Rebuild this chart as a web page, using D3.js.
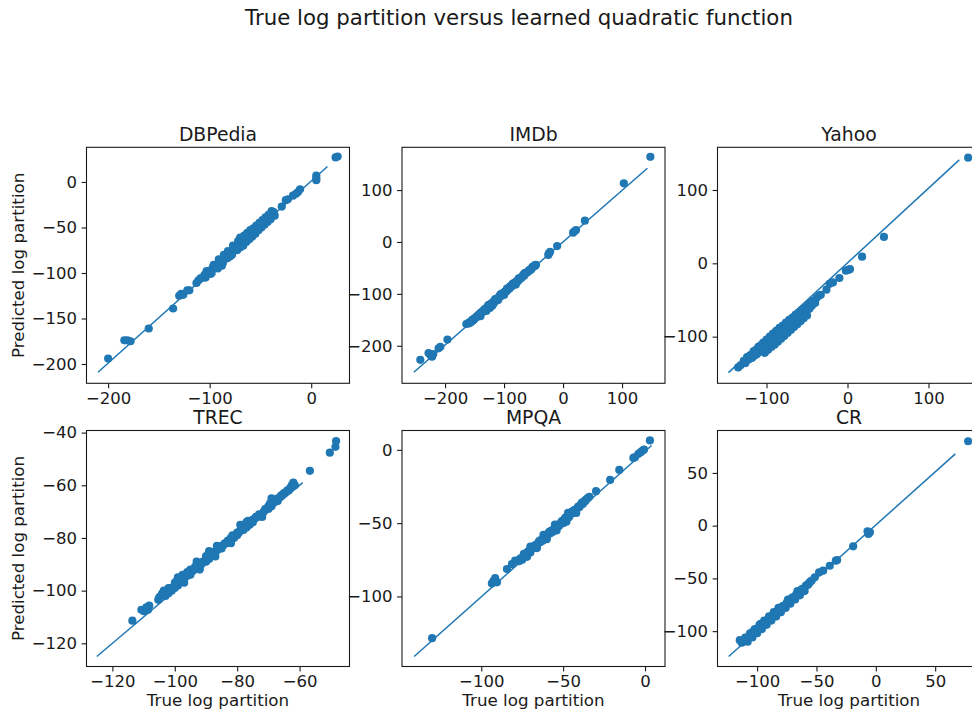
<!DOCTYPE html>
<html>
<head>
<meta charset="utf-8">
<style>
  body { margin: 0; background: #ffffff; }
  svg { font-family: "DejaVu Sans", sans-serif; }
</style>
</head>
<body>
<svg width="972" height="712"></svg>
<script src="https://d3js.org/d3.v7.min.js"></script>
<script>
// panel names, in reading order
const titles = ["DBPedia", "IMDb", "Yahoo", "TREC", "MPQA", "CR"];

// [true log partition, predicted log partition]
const dbpedia = [[-200,-194],[-184,-174],[-181,-174],[-178,-175],[-160,-161],[-136,-139],[-130,-125],[-128,-123],
  [-126,-124],[-122,-119],[-120,-119],[-113,-111],[-111,-108],[-109,-106],[-107,-105],[-105,-102],[-104,-105],
  [-102,-99],[-100,-98],[-99,-101],[-97,-94],[-95,-93],[-93,-91],[-92,-95],[-90,-87],[-88,-86],[-88,-92],[-86,-84],
  [-84,-81],[-83,-84],[-81,-78],[-79,-77],[-78,-80],[-76,-73],[-74,-72],[-73,-75],[-71,-68],[-69,-67],[-68,-64],
  [-67,-70],[-65,-62],[-64,-66],[-62,-59],[-61,-63],[-59,-56],[-58,-60],[-56,-53],[-55,-57],[-53,-50],[-52,-53],
  [-50,-47],[-49,-50],[-47,-44],[-46,-47],[-44,-41],[-43,-44],[-41,-38],[-40,-41],[-38,-35],[-37,-33],[-36,-37],
  [-103,-98],[-96,-91],[-91,-85],[-86,-80],[-82,-76],[-77,-70],[-72,-65],[-70,-61],[-66,-59],[-63,-56],[-60,-53],
  [-57,-51],[-54,-48],[-51,-45],[-48,-42],[-45,-39],[-42,-36],[-39,-32],[-98,-100],[-87,-89],[-80,-82],[-70,-72],
  [-29,-27],[-25,-20],[-23,-19],[-18,-15],[-15,-13],[-13,-11],[-11,-8],[5,7],[5,4],[5,2],[24,27],[26,28]];

const imdb = [[-242,-227],[-228,-214],[-225,-218],[-222,-221],[-220,-216],[-211,-205],[-208,-202],[-196,-188],
  [-164,-158],[-160,-157],[-157,-155],[-154,-150],[-152,-151],[-150,-147],[-148,-146],[-146,-143],[-144,-143],
  [-142,-139],[-140,-138],[-138,-135],[-136,-135],[-134,-131],[-132,-129],[-130,-128],[-128,-125],[-126,-125],
  [-126,-121],[-124,-127],[-124,-121],[-122,-119],[-120,-118],[-118,-115],[-118,-119],[-116,-115],[-114,-111],
  [-112,-109],[-110,-108],[-110,-112],[-108,-105],[-106,-105],[-104,-101],[-102,-99],[-100,-98],[-100,-102],
  [-98,-95],[-96,-95],[-94,-91],[-92,-89],[-90,-88],[-90,-86],[-88,-85],[-86,-85],[-84,-81],[-82,-79],[-80,-78],
  [-80,-82],[-78,-75],[-76,-75],[-74,-71],[-72,-69],[-70,-68],[-68,-65],[-66,-65],[-64,-61],[-62,-59],[-60,-58],
  [-58,-55],[-56,-53],[-54,-52],[-52,-49],[-50,-47],[-48,-45],[-46,-44],[-140,-143],[-130,-133],[-120,-123],
  [-115,-110],[-105,-100],[-95,-90],[-85,-80],[-75,-70],[-65,-60],
  [-159,-155],[-155,-153],[-151,-149],[-147,-145],[-143,-141],[-139,-136],[-135,-133],[-131,-130],[-127,-123],
  [-123,-120],[-119,-117],[-115,-113],[-111,-110],[-107,-103],[-103,-100],[-99,-97],[-95,-93],[-91,-90],[-87,-83],
  [-83,-80],[-79,-77],[-75,-73],[-71,-70],[-67,-63],[-63,-60],[-59,-57],[-55,-54],[-51,-48],[-47,-46],
  [-25,-25],[-24,-22],[-22,-19],[-10,-8],[17,18],[20,21],[22,23],[37,41],[103,113],[148,164]];

const yahoo = [[-135,-142],[-132,-139],[-128,-133],[-126,-136],[-124,-128],[-122,-131],[-120,-125],[-118,-129],
  [-116,-120],[-115,-126],[-113,-118],[-112,-124],[-110,-114],[-109,-121],[-107,-112],[-106,-118],[-104,-108],
  [-103,-115],[-102,-122],[-100,-104],[-99,-111],[-98,-118],[-96,-100],[-95,-107],[-94,-114],[-92,-96],[-91,-104],
  [-90,-111],[-88,-92],[-87,-100],[-86,-107],[-84,-88],[-83,-96],[-82,-103],[-80,-85],[-79,-92],[-78,-99],[-76,-81],
  [-75,-88],[-74,-95],[-72,-77],[-71,-84],[-70,-91],[-68,-74],[-67,-80],[-66,-87],[-64,-70],[-63,-77],[-62,-83],
  [-60,-67],[-59,-73],[-58,-79],[-56,-63],[-55,-70],[-54,-75],[-52,-60],[-51,-66],[-50,-71],[-48,-56],[-47,-62],
  [-45,-53],[-44,-58],[-42,-51],[-40,-54],[-38,-47],[-35,-44],[-33,-43],[-26,-36],[-22,-28],[-18,-26],[-10,-20],
  [-2,-10],[1,-9],[3,-8],[18,9],[45,36],[149,144]];

const trec = [[-113.6,-111.4],[-110.7,-107.3],[-109.9,-107.8],[-109.1,-106.3],[-108.6,-107.3],[-108.2,-105.7],
  [-105.3,-103.5],[-105,-102.5],[-104.3,-101.8],[-104,-101],[-103,-102],[-102,-99],[-101,-100],[-100,-97],[-100,-99],
  [-99,-98],[-98,-96],[-97,-95],[-96,-93],[-95,-94],[-95,-92],[-94,-92],[-93,-89],[-92,-91],[-91,-89],[-90,-87],
  [-90,-89],[-89,-88],[-88,-86],[-87,-85],[-86,-84],[-85,-83],[-85,-84],[-84,-82],[-83,-81],[-82,-80],[-81,-80],
  [-80,-78],[-80,-79],[-79,-77],[-78,-77],[-78,-75],[-77,-74],[-76,-75],[-75,-73],[-75,-74],[-74,-72],[-73,-71],
  [-72,-71],[-71,-69],[-70,-68],[-70,-69],[-69,-68],[-68,-66],[-67,-65],[-66,-64],[-65,-63],[-64,-62],[-63,-61],
  [-62,-59],[-102,-101],[-97,-97],[-92,-92],[-87,-87],[-82,-82],[-77,-76],[-72,-72],[-67,-66],[-99,-95],[-89,-85],
  [-79,-75],[-69,-65],
  [-103.5,-100],[-101.5,-99],[-99.5,-96.5],[-97.5,-94],[-96.5,-94.5],[-93.5,-91],[-91.5,-90],[-89.5,-86.5],
  [-87.5,-86],[-86.5,-83],[-83.5,-82],[-81.5,-79],[-79.5,-78],[-77.5,-76],[-76.5,-73.5],[-73.5,-72],[-71.5,-70],
  [-69.5,-67],[-67.5,-66],[-65.5,-63.5],[-63.5,-62],[-62.5,-60],[-61.5,-60],
  [-56.7,-54.5],[-50.3,-47.6],[-48.5,-45.4],[-48.3,-43.2]];

const mpqa = [[-130,-128.5],[-93.5,-91.1],[-92.5,-89.3],[-91.5,-87.5],[-90.4,-90.4],[-84.3,-81.3],[-81.3,-77.9],
  [-79.3,-75.6],[-77,-76],[-76,-74],[-75,-75],[-74,-72],[-74,-71],[-73,-72],[-72,-70],[-71,-69],[-70,-70],[-69,-67],
  [-68,-67],[-67,-65],[-66,-65],[-65,-63],[-64,-63],[-63,-61],[-62,-61],[-61,-59],[-60,-60],[-59,-57],[-58,-57],
  [-57,-55],[-56,-55],[-55,-53],[-54,-53],[-53,-51],[-52,-51],[-51,-49],[-50,-50],[-49,-47],[-48,-47],[-47,-45],
  [-46,-45],[-45,-43],[-44,-43],[-43,-41],[-42,-41],[-41,-39],[-40,-39],[-39,-37],[-38,-37],[-37,-35],[-36,-34],
  [-35,-33],[-72,-73],[-66,-67],[-60,-61],[-54,-55],[-48,-49],[-42,-43],[-70,-66],[-62,-58],[-55,-51],[-47,-43],
  [-76.5,-75],[-74.5,-73.5],[-72.5,-71],[-70.5,-68.5],[-68.5,-66],[-66.5,-66],[-64.5,-62],[-62.5,-62],[-60.5,-58.5],
  [-58.5,-56],[-56.5,-56],[-54.5,-52],[-52.5,-52],[-50.5,-48.5],[-48.5,-46],[-46.5,-46],[-44.5,-42],[-42.5,-42],
  [-40.5,-38.5],[-38.5,-36],[-36.5,-35],[-34,-32],
  [-29.9,-28.2],[-21.3,-20.5],[-15.7,-13.7],[-7.1,-5.5],[-6.1,-5],[-4,-2.7],[-2.6,-1.6],[-1.4,-0.5],
  [-0.6,0.2],[3,6.4]];

const cr = [[-114.6,-108.5],[-113,-111],[-111,-109],[-109,-108],[-108,-110],[-107,-105],[-106,-102],[-105,-104],
  [-104,-106],[-103,-101],[-102,-98],[-101,-100],[-100,-102],[-99,-97],[-98,-94],[-97,-96],[-96,-98],[-95,-93],
  [-94,-90],[-93,-92],[-92,-94],[-91,-89],[-89,-88],[-88,-90],[-87,-85],[-86,-82],[-85,-84],[-84,-86],[-83,-81],
  [-81,-80],[-80,-82],[-79,-77],[-77,-76],[-76,-78],[-75,-73],[-73,-72],[-72,-74],[-71,-69],[-69,-68],[-68,-70],
  [-67,-65],[-65,-64],[-64,-66],[-63,-61],[-61,-60],[-60,-62],[-59,-57],[-57,-56],[-55,-53],[-110,-106],[-104,-101],
  [-97,-93],[-90,-86],[-82,-78],[-74,-70],[-66,-62],
  [-112,-110],[-110,-108],[-106,-104],[-102,-100],[-98,-96],[-94,-92],[-90,-88],[-86,-84],[-82,-80],[-78,-76],
  [-74,-72],[-70,-68],[-66,-64],[-62,-60],[-58,-56],[-56,-54],[-54,-52],
  [-51.4,-49],[-47.8,-44.3],[-44.4,-42.7],[-38.8,-38],[-33.7,-33.2],[-32.6,-32.6],[-19.1,-19.6],[-7,-5.4],
  [-6.2,-7.9],[-5,-6.3],[77.8,80]];

const panelPoints = [dbpedia, imdb, yahoo, trec, mpqa, cr];

// fitted line ends [[x0, y0], [x1, y1]]
const fitLines = [[[-210,-209],[16,17]], [[-253,-251],[143,142]], [[-147,-149],[138,141]],
  [[-125,-125],[-59,-59]], [[-141,-141],[4,3]], [[-124,-124],[67,68]]];

// axis extents
const xDomains = [[-221.3,37.7], [-273,172.8], [-160.5,164.2], [-128.3,-44], [-148.4,12.2], [-133.4,88.2]];
const yDomains = [[-221.2,38.1], [-272.3,182.4], [-163.6,158.2], [-128.8,-39.2], [-147.8,13.2], [-133.5,90.2]];

const xTicks = [[-200,-100,0], [-200,-100,0,100], [-100,0,100], [-120,-100,-80,-60], [-100,-50,0], [-100,-50,0,50]];
const yTicks = [[0,-50,-100,-150,-200], [100,0,-100,-200], [100,0,-100], [-40,-60,-80,-100,-120], [0,-50,-100], [50,0,-50,-100]];

const svg = d3.select("svg");
const colLeft = [86.5, 402, 717.5];
const rowTop = [147.3, 430.5];
const w = 263, h = 236;
const blue = "#1f77b4";
const ink = "#1a1a1a";

svg.append("rect").attr("width", 972).attr("height", 712).attr("fill", "#fff");

svg.append("text")
  .attr("x", 519).attr("y", 24.5)
  .attr("text-anchor", "middle")
  .style("font-size", "21.3px")
  .attr("fill", ink)
  .text("True log partition versus learned quadratic function");

titles.forEach(function(name, i) {
  const row = Math.floor(i / 3), col = i % 3;
  const g = svg.append("g").attr("transform", "translate(" + colLeft[col] + "," + rowTop[row] + ")");

  const x = d3.scaleLinear().domain(xDomains[i]).range([0, w]);
  const y = d3.scaleLinear().domain(yDomains[i]).range([h, 0]);

  g.append("path")
    .datum(fitLines[i])
    .attr("d", d3.line().x(d => x(d[0])).y(d => y(d[1])))
    .attr("fill", "none")
    .attr("stroke", blue)
    .attr("stroke-width", 1.5);

  g.selectAll("circle")
    .data(panelPoints[i])
    .join("circle")
    .attr("cx", d => x(d[0]))
    .attr("cy", d => y(d[1]))
    .attr("r", 4.1)
    .attr("fill", blue);

  const xa = g.append("g")
    .attr("transform", "translate(0," + h + ")")
    .call(d3.axisBottom(x).tickValues(xTicks[i]).tickSize(4.9).tickPadding(3.6).tickFormat(d3.format("d")));
  const ya = g.append("g")
    .call(d3.axisLeft(y).tickValues(yTicks[i]).tickSize(4.9).tickPadding(4.5).tickFormat(d3.format("d")));
  [xa, ya].forEach(a => {
    a.select(".domain").remove();
    a.selectAll("line").attr("stroke", ink).attr("stroke-width", 1.1);
    a.selectAll("text").attr("fill", ink).style("font-size", "16.5px").style("font-family", "DejaVu Sans, sans-serif");
  });

  // frame
  g.append("rect")
    .attr("width", w).attr("height", h)
    .attr("fill", "none")
    .attr("stroke", ink)
    .attr("stroke-width", 1.1);

  g.append("text")
    .attr("x", w / 2).attr("y", -6.6)
    .attr("text-anchor", "middle")
    .style("font-size", "18.8px")
    .attr("fill", ink)
    .text(name);

  if (row === 1) {
    g.append("text")
      .attr("x", w / 2).attr("y", h + 39.5)
      .attr("text-anchor", "middle")
      .style("font-size", "16.7px")
      .attr("fill", ink)
      .text("True log partition");
  }
  if (col === 0) {
    g.append("text")
      .attr("transform", "translate(" + (24 - colLeft[0]) + "," + (h / 2) + ") rotate(-90)")
      .attr("text-anchor", "middle")
      .style("font-size", "16.7px")
      .attr("fill", ink)
      .text("Predicted log partition");
  }
});
</script>
</body>
</html>
